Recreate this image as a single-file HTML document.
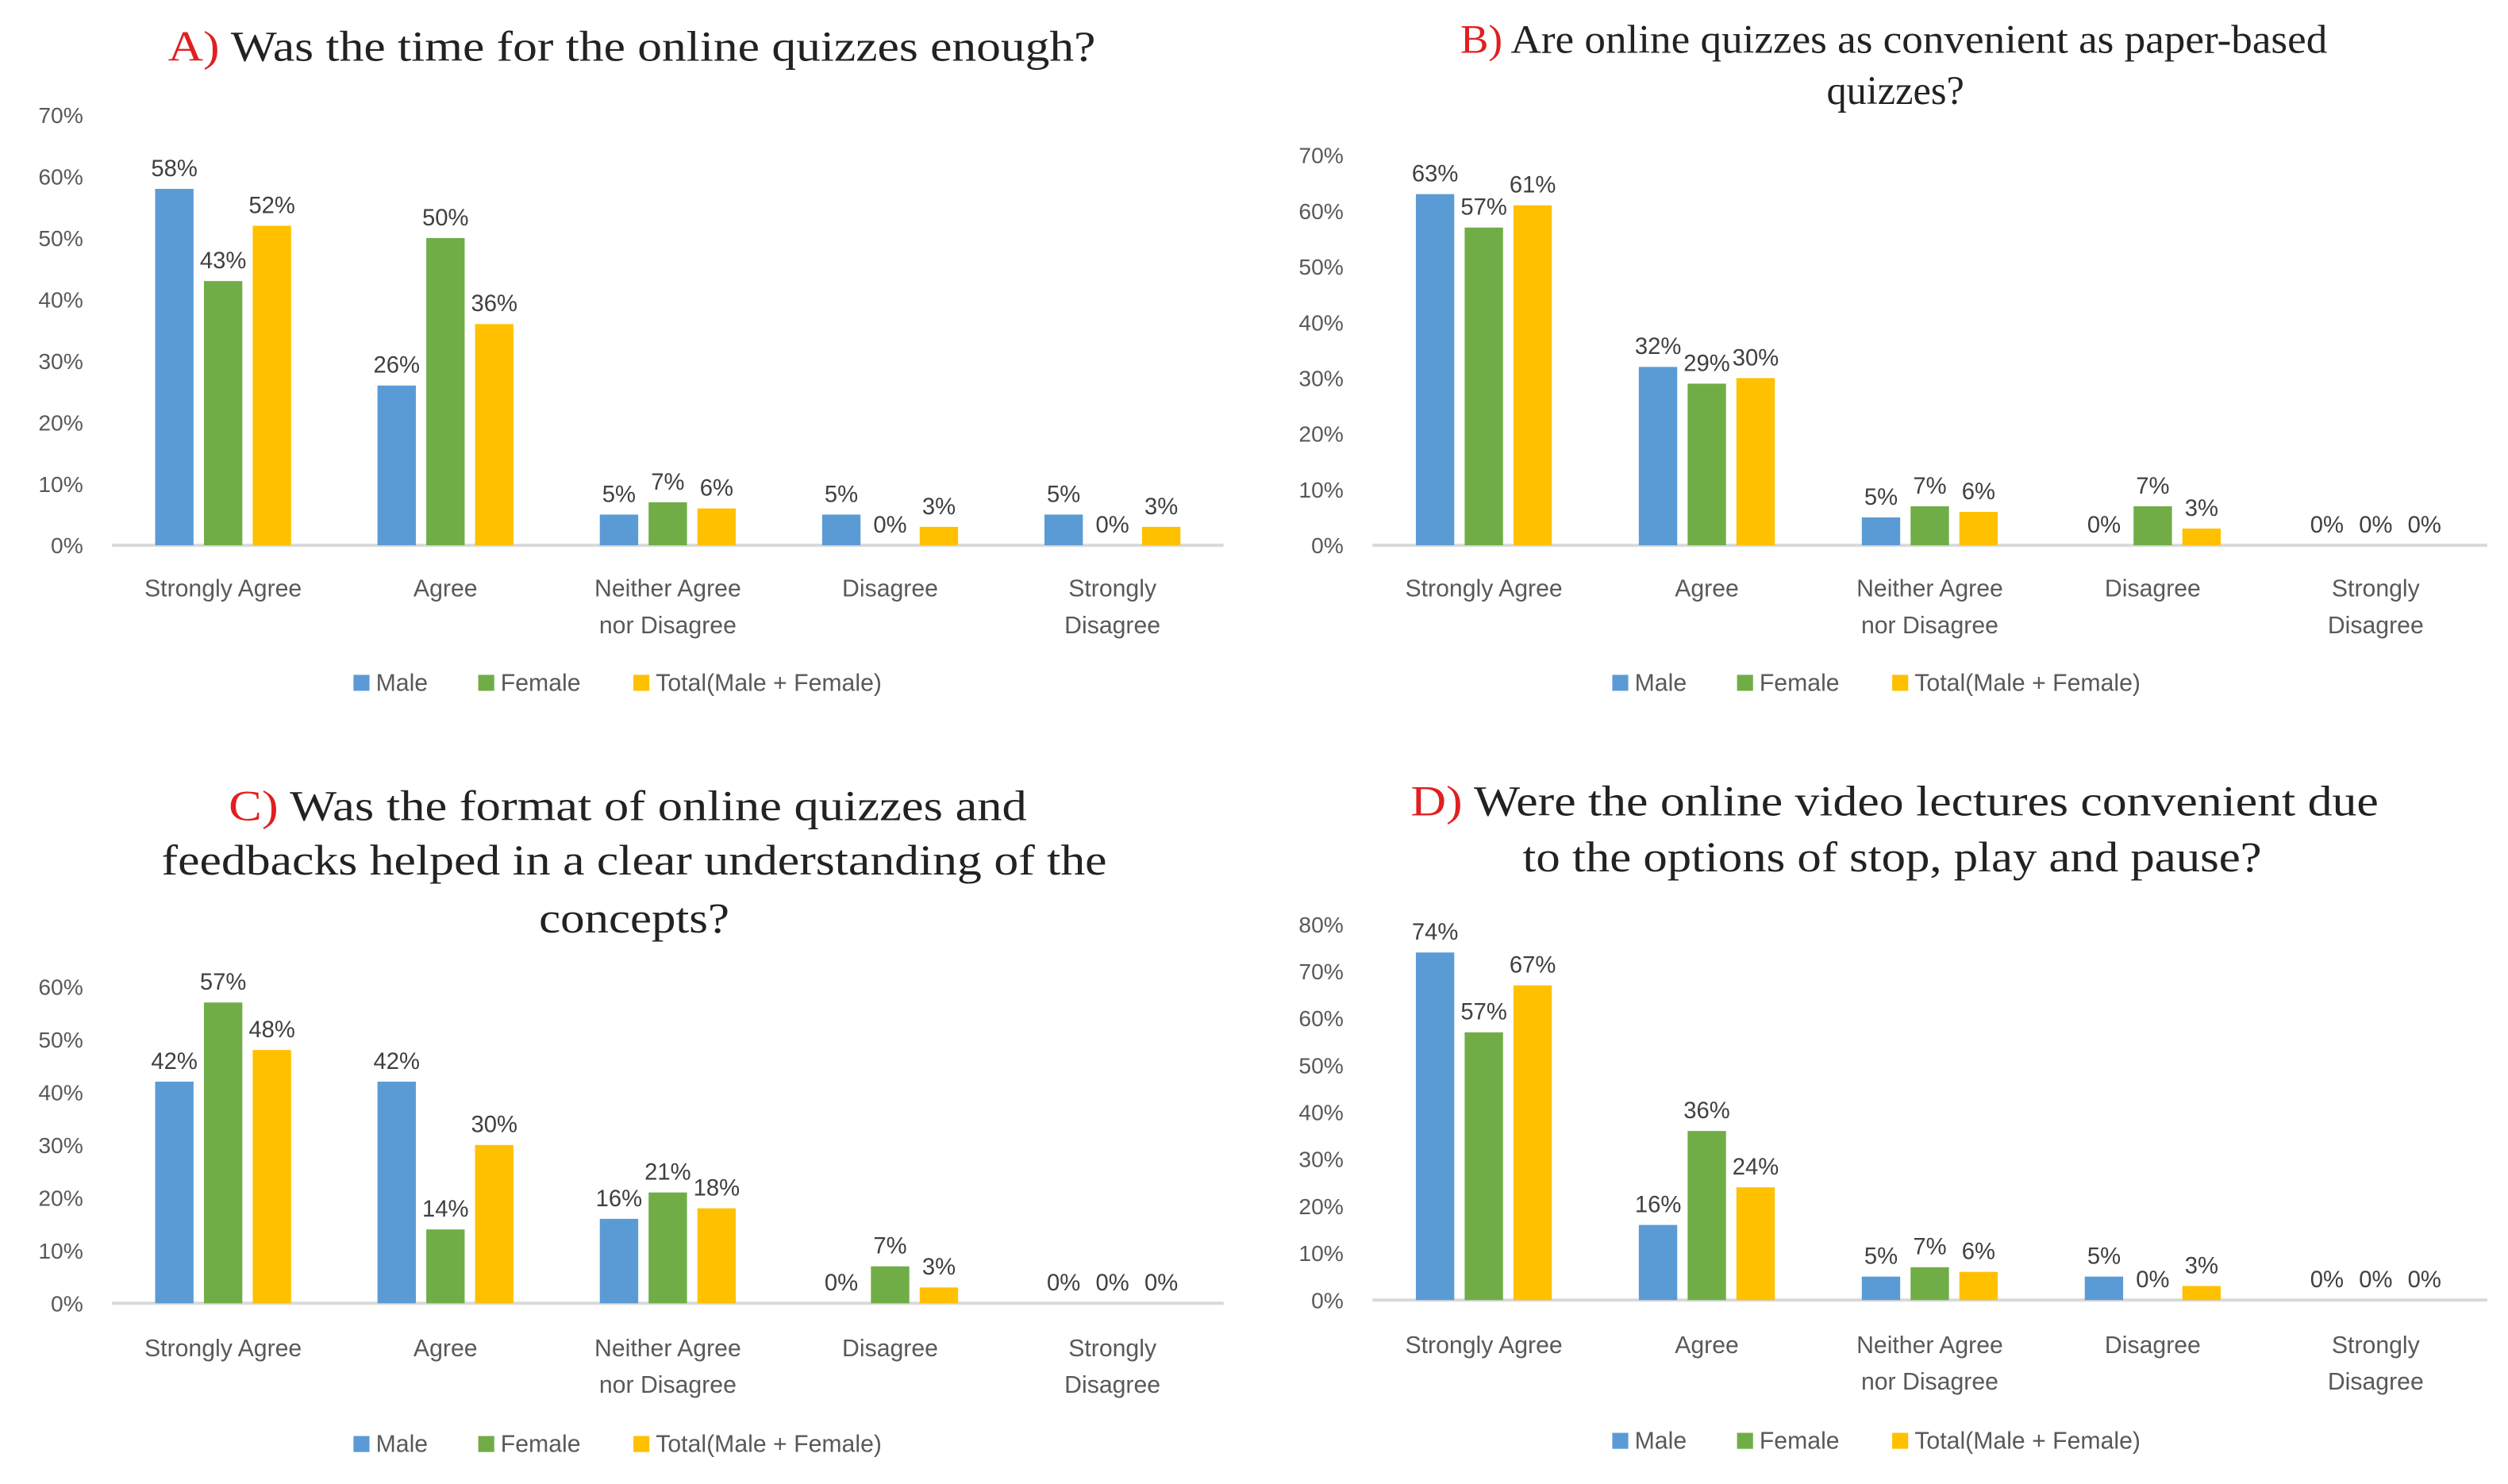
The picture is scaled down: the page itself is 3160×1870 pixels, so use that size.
<!DOCTYPE html>
<html><head><meta charset="utf-8"><style>
html,body{margin:0;padding:0;background:#fff;}
svg{display:block;}
text{font-family:"Liberation Sans",sans-serif;}
.ttl{font-family:"Liberation Serif",serif;font-size:27px;fill:#222;}
.tk{font-size:14px;fill:#595959;}
.dl{font-size:14.5px;fill:#404040;}
.cat{font-size:15px;fill:#595959;}
.lg{font-size:15px;fill:#595959;}
</style></head><body>
<svg id="s" width="3160" height="1870" viewBox="0 0 1568 928" preserveAspectRatio="none" xmlns="http://www.w3.org/2000/svg">
<g><text class="ttl" x="105" y="38" textLength="580" lengthAdjust="spacingAndGlyphs"><tspan fill="#e02020">A)</tspan> Was the time for the online quizzes enough?</text></g>
<g><text class="ttl" x="913" y="33" textLength="542" lengthAdjust="spacingAndGlyphs" style="font-size:25px"><tspan fill="#e02020">B)</tspan> Are online quizzes as convenient as paper-based</text><text class="ttl" x="1185" y="65" text-anchor="middle" style="font-size:25px">quizzes?</text></g>
<g><text class="ttl" x="143" y="513" textLength="499" lengthAdjust="spacingAndGlyphs"><tspan fill="#e02020">C)</tspan> Was the format of online quizzes and</text><text class="ttl" x="101" y="547" textLength="591" lengthAdjust="spacingAndGlyphs">feedbacks helped in a clear understanding of the</text><text class="ttl" x="337" y="583" textLength="119" lengthAdjust="spacingAndGlyphs">concepts?</text></g>
<g><text class="ttl" x="882" y="510" textLength="605" lengthAdjust="spacingAndGlyphs"><tspan fill="#e02020">D)</tspan> Were the online video lectures convenient due</text><text class="ttl" x="952" y="545" textLength="462" lengthAdjust="spacingAndGlyphs">to the options of stop, play and pause?</text></g>
</svg>
<script>
const categories=["Strongly Agree","Agree","Neither Agree|nor Disagree","Disagree","Strongly|Disagree"];
const seriesNames=["Male","Female","Total(Male + Female)"];
const colors=["#5b9bd5","#70ad47","#ffc000"];
const aMale=[58,26,5,5,5], aFemale=[43,50,7,0,0], aTotal=[52,36,6,3,3];
const bMale=[63,32,5,0,0], bFemale=[57,29,7,7,0], bTotal=[61,30,6,3,0];
const cMale=[42,42,16,0,0], cFemale=[57,14,21,7,0], cTotal=[48,30,18,3,0];
const dMale=[74,16,5,5,0], dFemale=[57,36,7,0,0], dTotal=[67,24,6,3,0];
const aTicks=[0,10,20,30,40,50,60,70], bTicks=[0,10,20,30,40,50,60,70], cTicks=[0,10,20,30,40,50,60], dTicks=[0,10,20,30,40,50,60,70,80];
const NS="http://www.w3.org/2000/svg", svg=document.getElementById('s');
function mk(tag,attrs,parent,txt){const e=document.createElementNS(NS,tag);for(const k in attrs)e.setAttribute(k,attrs[k]);if(txt!==undefined)e.textContent=txt;parent.appendChild(e);return e;}
const panels=[
 {id:'a',data:[aMale,aFemale,aTotal],ticks:aTicks,x0:70,x1:765,base:341,top:72,ylab:52,catY:373,legY:433,legX:221},
 {id:'b',data:[bMale,bFemale,bTotal],ticks:bTicks,x0:858,x1:1555,base:341,top:97,ylab:840,catY:373,legY:433,legX:1008},
 {id:'c',data:[cMale,cFemale,cTotal],ticks:cTicks,x0:70,x1:765,base:815,top:617,ylab:52,catY:848,legY:909,legX:221},
 {id:'d',data:[dMale,dFemale,dTotal],ticks:dTicks,x0:858,x1:1555,base:813,top:578,ylab:840,catY:846,legY:907,legX:1008}];
panels.forEach(p=>{
 const g=mk('g',{},svg);
 
 
 const max=p.ticks[p.ticks.length-1];
 const y=v=>p.base-(p.base-p.top)*v/max;
 const step=(p.x1-p.x0)/categories.length;
 const cx=i=>p.x0+step*(i+0.5);
 p.ticks.forEach(t=>{const e=mk('text',{class:'tk',x:p.ylab,y:y(t)+5,'text-anchor':'end'},g,t+'%');
  
  });
 const ax=mk('line',{x1:p.x0,x2:p.x1,y1:p.base,y2:p.base,stroke:'#d9d9d9','stroke-width':2},g);
 
 
 const bw=24,gap=6.5;
 p.data.forEach((ser,s)=>{ser.forEach((v,i)=>{
  const x=cx(i)+(s-1)*(bw+gap)-bw/2;
  const r=mk('rect',{x:x,y:y(v),width:bw,height:p.base-y(v),fill:colors[s]},g);
  
  
  const t=mk('text',{class:'dl',x:x+bw/2,y:y(v)-8,'text-anchor':'middle'},g,v+'%');
  
  
 });});
 categories.forEach((c,i)=>{c.split('|').forEach((ln,j)=>{const t=mk('text',{class:'cat',x:cx(i),y:p.catY+j*23,'text-anchor':'middle'},g,ln);
  
  });});
 let lx=p.legX;const offs=[0,78,175];
 seriesNames.forEach((n,s)=>{
  const r=mk('rect',{x:lx+offs[s],y:p.legY-11,width:10,height:10,fill:colors[s]},g);
  
  
  const t=mk('text',{class:'lg',x:lx+offs[s]+14,y:p.legY-1},g,n);
  
  
 });
});
</script>
</body></html>
